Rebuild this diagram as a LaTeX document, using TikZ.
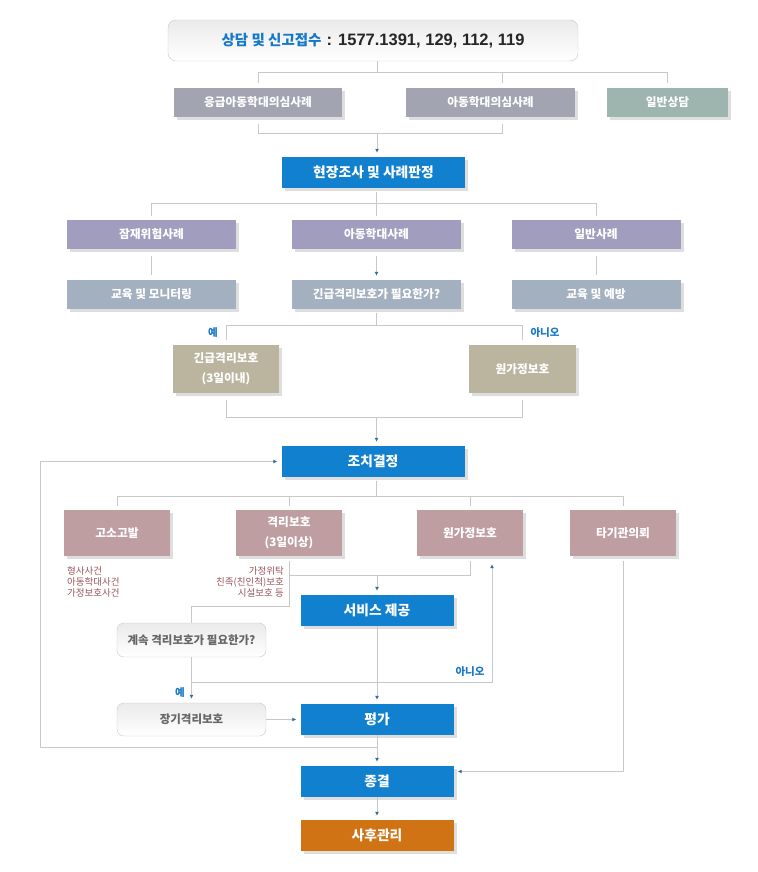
\documentclass[tikz,border=0pt]{standalone}
\usepackage{fontspec}
\setmainfont{Noto Sans CJK KR}
\newfontfamily\numfont{Liberation Sans}
\usetikzlibrary{arrows.meta,shadows}
\definecolor{stepblue}{RGB}{16,128,207}
\definecolor{titleblue}{RGB}{22,120,200}
\definecolor{aftercare}{RGB}{208,115,20}
\definecolor{reportgray}{RGB}{162,164,177}
\definecolor{consultgreen}{RGB}{158,180,174}
\definecolor{casepurple}{RGB}{160,157,190}
\definecolor{caresteel}{RGB}{163,176,191}
\definecolor{protecttan}{RGB}{187,181,159}
\definecolor{actionrose}{RGB}{190,158,161}
\definecolor{notebrown}{RGB}{150,85,90}
\definecolor{linegray}{RGB}{200,200,200}
\definecolor{tipblue}{RGB}{50,110,160}

\begin{document}
\begin{tikzpicture}[x=1pt,y=-1pt,
  box/.style={rectangle,inner sep=0pt,text=white,align=center,
    drop shadow={shadow xshift=3pt,shadow yshift=-3pt,fill=black!13,opacity=1}},
  small/.style={box,minimum height=29pt,font=\bfseries\fontsize{11.7}{20}\selectfont},
  big/.style={box,fill=stepblue,minimum width=153pt,minimum height=31pt,font=\bfseries\fontsize{13.8}{16}\selectfont},
  soft/.style={rectangle,rounded corners=7pt,draw=black!22,top color=black!8,bottom color=white,
    inner sep=0pt,text=black!60,font=\bfseries\fontsize{11.5}{13}\selectfont},
  ln/.style={draw=linegray,line width=0.9pt},
  ar/.style={ln,-{Latex[length=4pt,width=4pt,color=tipblue]},shorten >=4pt},
  yes/.style={text=titleblue,font=\bfseries\fontsize{10.5}{12}\selectfont},
  note/.style={inner sep=0pt,text=notebrown,font=\fontsize{9.5}{11.3}\selectfont}]
\useasboundingbox (0,0) rectangle (757,872);

% reports
\node[soft,minimum width=410pt,minimum height=41pt,rounded corners=8pt] (top) at (373,40.5)
  {{\color{titleblue}\fontsize{14.5}{17}\selectfont 상담 및 신고접수}\hspace{5pt}{\numfont\fontsize{16.5}{18}\selectfont\color{black!85}: 1577.1391, 129, 112, 119}};
\node[small,fill=reportgray,minimum width=168pt] (urgent) at (258,102.5) {응급아동학대의심사례};
\node[small,fill=reportgray,minimum width=169pt] (suspect) at (490.5,102.5) {아동학대의심사례};
\node[small,fill=consultgreen,minimum width=121pt] (consult) at (667.5,102.5) {일반상담};

% investigation
\node[big,minimum width=183pt] (survey) at (373.5,172.5) {현장조사 및 사례판정};
\node[small,fill=casepurple,minimum width=169pt] (risk) at (151.5,234.5) {잠재위험사례};
\node[small,fill=casepurple,minimum width=169pt] (abuse) at (376.5,234.5) {아동학대사례};
\node[small,fill=casepurple,minimum width=169pt] (general) at (596,234.5) {일반사례};
\node[small,fill=caresteel,minimum width=169pt] (monitor) at (151.5,294.5) {교육 및 모니터링};
\node[small,fill=caresteel,minimum width=169pt] (urgentq) at (376.5,294.5) {긴급격리보호가 필요한가?};
\node[small,fill=caresteel,minimum width=169pt] (prevent) at (596,294.5) {교육 및 예방};
\node[small,fill=protecttan,minimum width=106pt,minimum height=48pt] (emerg) at (226,369) {긴급격리보호\\(3일이내)};
\node[small,fill=protecttan,minimum width=107pt,minimum height=48pt] (home) at (522.5,369) {원가정보호};

% actions
\node[big,minimum width=183pt] (decide) at (373,461.5) {조치결정};
\node[small,fill=actionrose,minimum width=106pt,minimum height=46pt] (accuse) at (117,533) {고소고발};
\node[small,fill=actionrose,minimum width=106pt,minimum height=46pt] (separate) at (289,533) {격리보호\\(3일이상)};
\node[small,fill=actionrose,minimum width=106pt,minimum height=46pt] (family) at (470,533) {원가정보호};
\node[small,fill=actionrose,minimum width=106pt,minimum height=46pt] (refer) at (623,533) {타기관의뢰};
\node[note,anchor=north west,align=left] (crimes) at (67,566) {형사사건\\아동학대사건\\가정보호사건};
\node[note,anchor=north east,align=right] (places) at (284,566) {가정위탁\\친족(친인척)보호\\시설보호 등};
\node[big] (service) at (377,610.5) {서비스 제공};
\node[soft,minimum width=149pt,minimum height=34pt] (again) at (191.5,640) {계속 격리보호가 필요한가?};
\node[soft,minimum width=149pt,minimum height=33pt] (longterm) at (191.5,719.5) {장기격리보호};
\node[big] (assess) at (377,719.5) {평가};
\node[big] (close) at (377,781.5) {종결};
\node[big,fill=aftercare] (after) at (377,835.5) {사후관리};

% connectors
\draw[ln] ([xshift=4pt]top.south) -- ++(0,11) coordinate (bus1);
\foreach \n/\dx in {urgent/0,suspect/11.5,consult/0}
  \draw[ln,shorten >=5pt] (bus1) -| ([xshift=\dx pt]\n.north);
\coordinate (bus2) at (377,133);
\draw[ln,shorten <=7pt] (urgent.south) |- (bus2);
\draw[ln,shorten <=7pt] ([xshift=11.5pt]suspect.south) |- (bus2);
\draw[ar] (bus2) -- (bus2 |- survey.north);

\draw[ln,shorten <=4pt] ([xshift=3pt]survey.south) -- ++(0,15) coordinate (bus3);
\foreach \n in {risk,abuse,general}
  \draw[ln,shorten >=4pt] (bus3) -| (\n.north);
\draw[ln,shorten <=7pt,shorten >=5pt] (risk) -- (monitor);
\draw[ar,shorten <=7pt] (abuse) -- (urgentq);
\draw[ln,shorten <=7pt,shorten >=5pt] (general) -- (prevent);

\draw[ln,shorten <=4pt] (urgentq.south) -- ++(0,16) coordinate (bus4);
\draw[ln,shorten >=5pt] (bus4) -| (emerg.north);
\draw[ln,shorten >=5pt] (bus4) -| (home.north);
\node[yes] (yes1) at (213,333) {예};
\node[yes] (no1) at (545,333) {아니오};
\coordinate (bus5) at (376.5,417);
\draw[ln,shorten <=7pt] (emerg.south) |- (bus5);
\draw[ln,shorten <=7pt] (home.south) |- (bus5);
\draw[ar] (bus5) -- (bus5 |- decide.north);

\draw[ln,shorten <=4pt] ([xshift=3.5pt]decide.south) -- ++(0,19) coordinate (bus6);
\foreach \n in {accuse,separate,family,refer}
  \draw[ln,shorten >=4pt] (bus6) -| (\n.north);
\coordinate (bus7) at (377,575);
\draw[ln,shorten <=5pt] (family.south) |- (separate.south |- bus7);
\draw[ar] (bus7) -- (service.north);
\draw[ln,shorten <=5pt] (separate.south) -- ++(0,50) -| (again.north);
\draw[ln] (again.south) -- ++(0,25) coordinate (bus9);
\draw[ar,shorten >=8pt] (bus9) -| ([xshift=22pt]family.south);
\draw[ar] (bus9) -- (longterm.north);
\node[yes] (yes2) at (180,693) {예};
\node[yes] (no2) at (470,672) {아니오};
\draw[ar] (service) -- (assess);
\draw[ar] (longterm) -- (assess);
\draw[ar] (assess) -- (close);
\coordinate (bus10) at (377,747);
\coordinate (loop) at (40,461.5);
\draw[ar] (bus10) -| (loop) -- (decide.west);
\draw[ar,shorten <=5pt] (refer.south) |- ([yshift=10pt]close.east);
\draw[ar] (close) -- (after);
\end{tikzpicture}
\end{document}
